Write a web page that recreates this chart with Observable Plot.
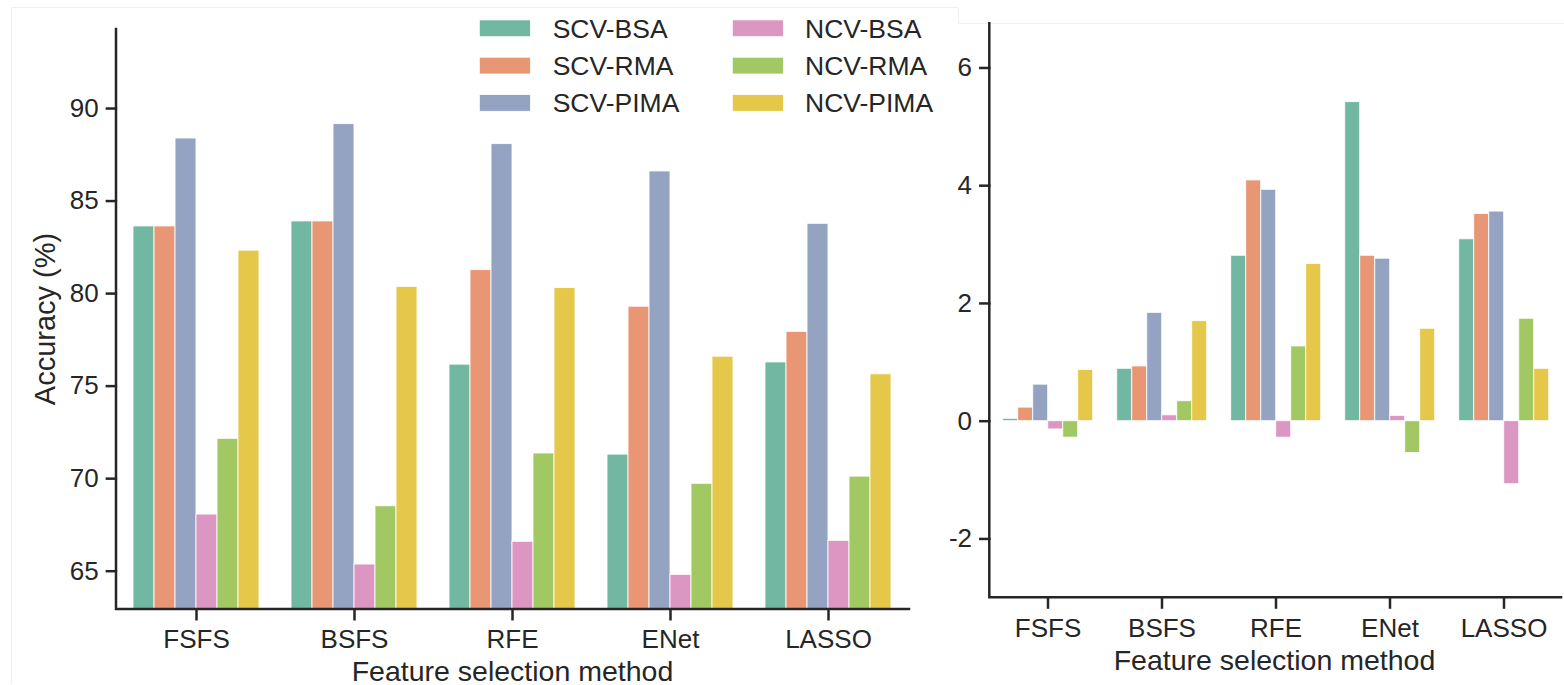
<!DOCTYPE html>
<html>
<head>
<meta charset="utf-8">
<script src="https://cdn.jsdelivr.net/npm/d3@7"></script>
<script src="https://cdn.jsdelivr.net/npm/@observablehq/plot@0.6"></script>
<style>
  html, body { margin: 0; padding: 0; background: #fff; }
  #wrap { position: relative; width: 1564px; height: 685px; overflow: hidden;
          font-family: "Liberation Sans", Arial, sans-serif; }
  #wrap > svg { position: absolute; top: 0; margin: 0; }
</style>
</head>
<body>
<div id="wrap"></div>
<script>
// ---- data ----
const methods = ["FSFS", "BSFS", "RFE", "ENet", "LASSO"];
const series = ["SCV-BSA", "SCV-RMA", "SCV-PIMA", "NCV-BSA", "NCV-RMA", "NCV-PIMA"];
const colors = ["#71b7a1", "#e99675", "#95a3c3", "#db96c1", "#a2c864", "#e5c849"];

// Left panel: accuracy (%) per series, in method order
const accScvBsa  = [83.63, 83.90, 76.16, 71.30, 76.28];
const accScvRma  = [83.63, 83.90, 81.27, 79.29, 77.93];
const accScvPima = [88.38, 89.16, 88.08, 86.60, 83.77];
const accNcvBsa  = [68.06, 65.36, 66.59, 64.80, 66.64];
const accNcvRma  = [72.15, 68.51, 71.36, 69.72, 70.11];
const accNcvPima = [82.32, 80.36, 80.30, 76.59, 75.64];

// Right panel: differences per series, in method order
const diffScvBsa  = [0.04, 0.89, 2.81, 5.42, 3.09];
const diffScvRma  = [0.23, 0.93, 4.09, 2.81, 3.52];
const diffScvPima = [0.62, 1.84, 3.93, 2.76, 3.56];
const diffNcvBsa  = [-0.14, 0.10, -0.28, 0.09, -1.07];
const diffNcvRma  = [-0.28, 0.34, 1.27, -0.54, 1.74];
const diffNcvPima = [0.87, 1.70, 2.67, 1.57, 0.89];

const leftTicks = [65, 70, 75, 80, 85, 90];
const rightTicks = [-2, 0, 2, 4, 6];
const xLabel = "Feature selection method";
const yLabel = "Accuracy (%)";

const accValues = [accScvBsa, accScvRma, accScvPima, accNcvBsa, accNcvRma, accNcvPima];
const diffValues = [diffScvBsa, diffScvRma, diffScvPima, diffNcvBsa, diffNcvRma, diffNcvPima];

function toRows(vals) {
  const rows = [];
  series.forEach((s, j) => methods.forEach((m, i) => rows.push({method: m, series: s, value: vals[j][i]})));
  return rows;
}

const ink = "#262626";
const font = "'Liberation Sans', Arial, sans-serif";
const H = 685;
const padOuter = 0.1, padInner = 0.2;

function panel(vals, o) {
  // distance from the plot's left edge to the first facet band
  const step = (o.width - o.ml - o.mr) / (methods.length - padInner + 2 * padOuter);
  const outer = step * padOuter;
  return Plot.plot({
    width: o.width, height: H,
    marginLeft: o.ml, marginRight: o.mr, marginTop: o.mt, marginBottom: o.mb,
    style: {background: "transparent", fontFamily: font, fontSize: "26px", color: ink, overflow: "visible"},
    fx: {domain: methods, paddingInner: padInner, paddingOuter: padOuter, label: null},
    x: {domain: series, padding: 0, axis: null},
    y: {domain: o.domain, label: null},
    color: {domain: series, range: colors},
    marks: [
      Plot.barY(toRows(vals), {fx: "method", x: "series", y: "value", fill: "series",
        stroke: "white", strokeWidth: 1, strokeOpacity: 0.85, clip: true}),
      Plot.axisY({ticks: o.ticks, tickSize: 11.5, tickPadding: 7.5, strokeWidth: 2.5,
        label: null, dx: -outer, tickFormat: d => String(d)}),
      Plot.axisFx({anchor: "bottom", tickSize: 11.5, tickPadding: 9, strokeWidth: 2.5, label: null})
    ]
  });
}

const wrap = document.getElementById("wrap");

const leftOpts = {x0: 0, width: 960, ml: 116, mr: 51, mt: 29, mb: 76, domain: [62.93, 94.27], ticks: leftTicks};
const rightOpts = {x0: 900, width: 664, ml: 89.3, mr: 3, mt: 23.3, mb: 87.7, domain: [-3, 6.75], ticks: rightTicks};

const left = panel(accValues, leftOpts);
left.style.left = leftOpts.x0 + "px";
wrap.appendChild(left);

const right = panel(diffValues, rightOpts);
right.style.left = rightOpts.x0 + "px";
wrap.appendChild(right);

// ---- overlay: faint panel borders, axis spines, axis labels, legend ----
const ov = d3.select(wrap).append("svg")
  .attr("width", 1564).attr("height", H)
  .style("left", "0px").style("pointer-events", "none")
  .attr("font-family", font).attr("fill", ink);

const faint = "#efefef";
ov.append("path").attr("fill", "none").attr("stroke", faint).attr("stroke-width", 1)
  .attr("d", "M11.5,684V7.5H958.5V23.5H1564");

// spines (left + bottom) along each panel's plotting frame
[leftOpts, rightOpts].forEach(o => {
  const xl = o.x0 + o.ml, xr = o.x0 + o.width - o.mr, yt = o.mt, yb = H - o.mb;
  ov.append("path").attr("fill", "none").attr("stroke", ink).attr("stroke-width", 2.5)
    .attr("stroke-linecap", "square")
    .attr("d", `M${xl},${yt}V${yb}H${xr}`);
});

ov.append("text").attr("x", 512.5).attr("y", 681).attr("text-anchor", "middle")
  .attr("font-size", 28.5).text(xLabel);
ov.append("text").attr("x", 1274.5).attr("y", 670).attr("text-anchor", "middle")
  .attr("font-size", 28.5).text(xLabel);
ov.append("text").attr("transform", "translate(55,319) rotate(-90)").attr("text-anchor", "middle")
  .attr("font-size", 29).text(yLabel);

const leg = ov.append("g");
series.forEach((s, i) => {
  const col = Math.floor(i / 3), row = i % 3;
  const px = col === 0 ? 479.3 : 732.3;
  const tx = col === 0 ? 552.7 : 805;
  const cy = 28.3 + row * 37.3;
  leg.append("rect").attr("x", px).attr("y", cy - 8.4).attr("width", 51.2).attr("height", 16.8)
    .attr("fill", colors[i]).attr("stroke", "white").attr("stroke-width", 0.8);
  leg.append("text").attr("x", tx).attr("y", cy + 9.3).attr("font-size", 26.5).text(s);
});
</script>
</body>
</html>
